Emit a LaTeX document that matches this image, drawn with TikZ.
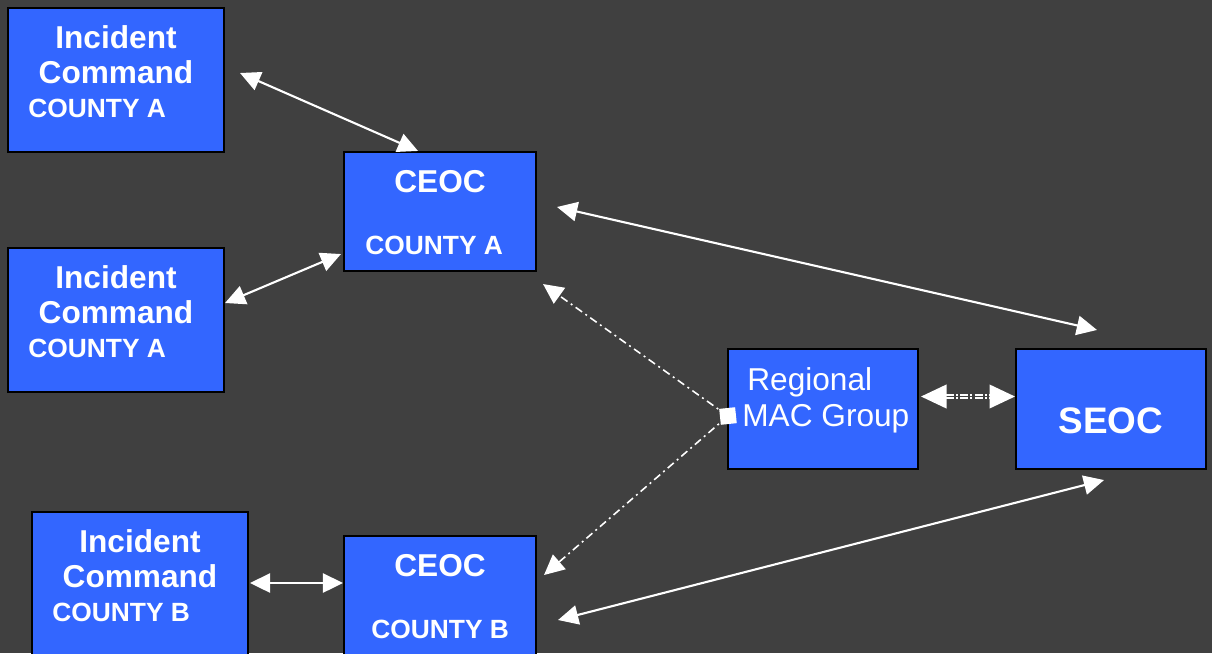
\documentclass[tikz,border=0pt]{standalone}
\usepackage{fontspec}
\setmainfont{Liberation Sans}
\usetikzlibrary{arrows.meta,calc}
\definecolor{slide}{HTML}{404040}
\definecolor{boxblue}{HTML}{3366FF}

\begin{document}
\begin{tikzpicture}[x=0.02cm,y=-0.02cm]
  \tikzstyle{every node}+=[inner sep=0pt]
  \tikzstyle{unit}=[draw=black, line width=1.2pt, fill=boxblue]
  \tikzstyle{icbox}=[unit, minimum width=4.32cm, minimum height=2.88cm]
  \tikzstyle{eocbox}=[unit, minimum width=3.84cm, minimum height=2.38cm]
  \tikzstyle{macbox}=[unit, minimum width=3.8cm, minimum height=2.4cm]
  \tikzstyle{big}=[text=white, font=\bfseries\fontsize{18}{18}\selectfont, anchor=base]
  \tikzstyle{small}=[text=white, font=\bfseries\fontsize{15}{15}\selectfont, anchor=base west]
  \tikzstyle{reg}=[text=white, font=\fontsize{18}{18}\selectfont, anchor=base west]
  \tikzstyle{link}=[white, line width=1.2pt, >={Triangle[length=11.5pt,width=11pt]}, <->]
  \tikzstyle{dashlink}=[white, line width=0.9pt, dash pattern=on 4.5pt off 2.3pt on 1.1pt off 2.3pt,
                        -{Triangle[length=11.5pt,width=11pt]}]
  \tikzstyle{maclink}=[white, line width=0.9pt, double=slide, double distance=1.1pt,
                       dash pattern=on 4.5pt off 1.2pt on 1.2pt off 1.2pt,
                       >={Triangle[length=14.5pt,width=13.5pt]}, <->]
  \clip (0,0) rectangle (1212,653);
  \fill [slide] (0,0) rectangle (1212,653);
  \node [icbox] (ica1) at (116,80) {};
  \node [icbox] (ica2) at (116,320) {};
  \node [icbox] (icb) at (140,584) {};
  \node [eocbox] (ceoca) at (440,211.5) {};
  \node [eocbox] (ceocb) at (440,595.5) {};
  \node [macbox] (mac) at (823,409) {};
  \node [macbox] (seoc) at (1111,409) {};
  \node [big] (ica1a) at (116,48) {Incident};
  \node [big] (ica1b) at (116,83) {Command};
  \node [small] (ica1c) at (28,117) {COUNTY A};
  \node [big] (ica2a) at (116,288) {Incident};
  \node [big] (ica2b) at (116,323) {Command};
  \node [small] (ica2c) at (28,357) {COUNTY A};
  \node [big] (icba) at (140,552) {Incident};
  \node [big] (icbb) at (140,587) {Command};
  \node [small] (icbc) at (52,621) {COUNTY B};
  \node [big] (ceocaa) at (440,192) {CEOC};
  \node [small] (ceocab) at (365,254) {COUNTY A};
  \node [big] (ceocba) at (440,576) {CEOC};
  \node [small] (ceocbb) at (371,638) {COUNTY B};
  \node [reg] (maca) at (747,390) {Regional};
  \node [reg] (macb) at (742,426) {MAC Group};
  \node [big, font=\bfseries\fontsize{21}{21}\selectfont] (seoca) at (1111,433) {SEOC};
  \coordinate (hub) at ($(mac.west)+(1,7)$);
  \draw [link] ($(ica1.east)+(15,-7)$) -- ($(ceoca.north)+(-22,0)$);
  \draw [link] ($(ica2.east)+(0,-17)$) -- ($(ceoca.south west)+(-2,-18)$);
  \draw [link] ($(ceoca.east)+(20,-4.5)$) -- ($(seoc.north)+(-14,-18)$);
  \draw [link] ($(icb.east)+(1,-1)$) -- ($(ceocb.west)+(0,-12.5)$);
  \draw [link] ($(ceocb.east)+(21,24.5)$) -- ($(seoc.south)+(-7,10)$);
  \draw [dashlink] (hub) -- ($(ceoca.south east)+(6,12)$);
  \draw [dashlink] (hub) -- ($(ceocb.east)+(7,-20.5)$);
  \fill [white, rotate around={6:(hub)}] ($(hub)+(-8,-8)$) rectangle ($(hub)+(8,8)$);
  \draw [maclink] ($(mac.east)+(2,-12.5)$) -- ($(seoc.west)+(0,-12.5)$);
\end{tikzpicture}
\end{document}
